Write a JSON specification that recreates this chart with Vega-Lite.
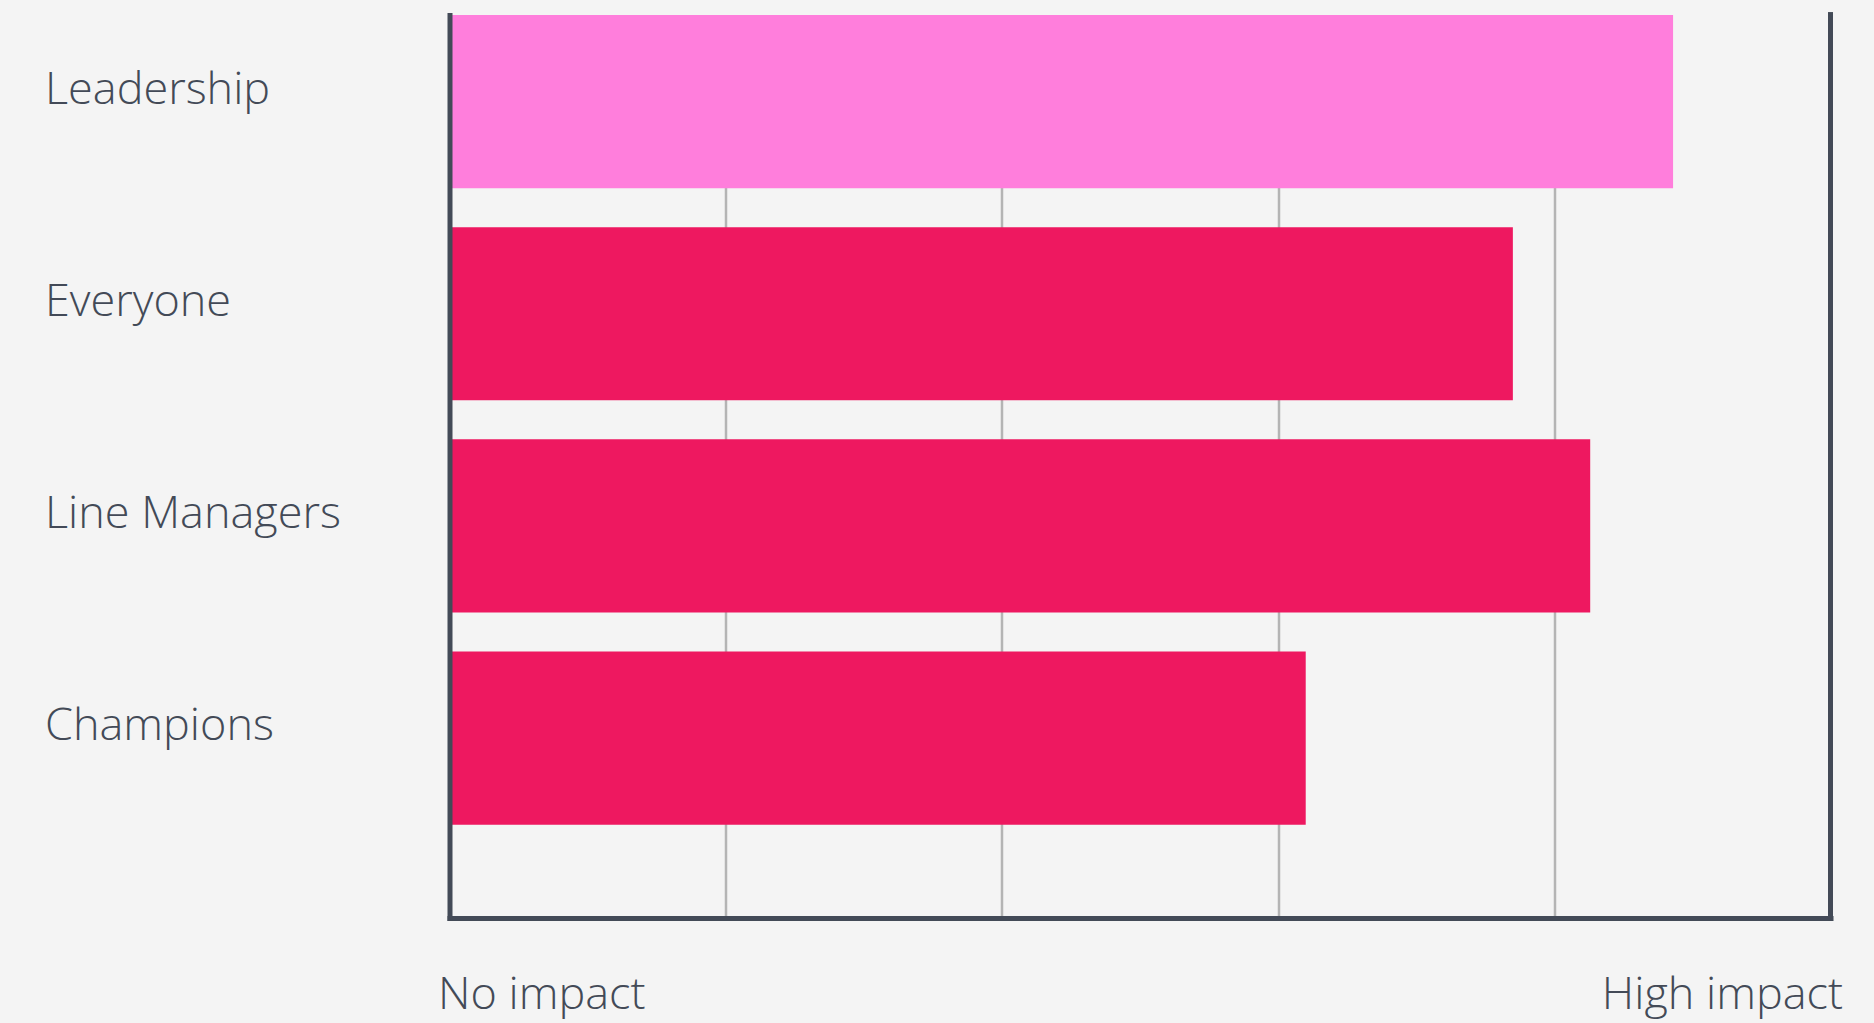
{
  "$schema": "https://vega.github.io/schema/vega-lite/v6.json",
  "autosize": "none",
  "width": 1381,
  "height": 903,
  "padding": {"left": 449.5, "top": 15, "right": 43.5, "bottom": 105},
  "background": "#f4f4f4",
  "config": {
    "view": {"stroke": null},
    "font": "Open Sans"
  },
  "data": {
    "values": [
      {"group": "Leadership", "impact": 4.43},
      {"group": "Everyone", "impact": 3.85},
      {"group": "Line Managers", "impact": 4.13},
      {"group": "Champions", "impact": 3.1}
    ]
  },
  "layer": [
    {
      "mark": {"type": "bar"},
      "encoding": {
        "y": {
          "field": "group",
          "type": "nominal",
          "sort": null,
          "title": null,
          "scale": {"paddingInner": 0.184, "paddingOuter": 0.22, "align": 0},
          "axis": {
            "orient": "left",
            "zindex": 1,
            "domain": true,
            "domainColor": "#434a57",
            "domainWidth": 5,
            "domainCap": "square",
            "ticks": false,
            "tickSize": 0,
            "labelAlign": "left",
            "labelPadding": 405,
            "labelBaseline": "middle",
            "labelOffset": -12,
            "labelFont": "Open Sans",
            "labelFontSize": 45,
            "labelFontWeight": 300,
            "labelColor": "#434a57",
            "labelLimit": 420
          }
        },
        "x": {
          "field": "impact",
          "type": "quantitative",
          "title": null,
          "scale": {"domain": [0, 5], "nice": false},
          "axis": {
            "values": [0, 1, 2, 3, 4, 5],
            "labelExpr": "datum.value == 0 ? 'No impact' : datum.value == 5 ? 'High impact' : ''",
            "grid": true,
            "gridColor": "#b4b4b4",
            "gridWidth": 2.5,
            "domain": true,
            "domainColor": "#434a57",
            "domainWidth": 5,
            "domainCap": "square",
            "ticks": false,
            "tickSize": 0,
            "labelFlush": true,
            "labelFlushOffset": 12,
            "labelBaseline": "alphabetic",
            "labelPadding": 90,
            "labelFont": "Open Sans",
            "labelFontSize": 45,
            "labelFontWeight": 300,
            "labelColor": "#434a57",
            "labelLimit": 500,
            "labelOverlap": false
          }
        },
        "color": {
          "condition": {"test": "datum.group == 'Leadership'", "value": "#ff7edc"},
          "value": "#ee1860"
        }
      }
    },
    {
      "mark": {"type": "rule", "color": "#434a57", "strokeWidth": 5, "strokeCap": "square"},
      "encoding": {"x": {"datum": 5}}
    }
  ]
}
